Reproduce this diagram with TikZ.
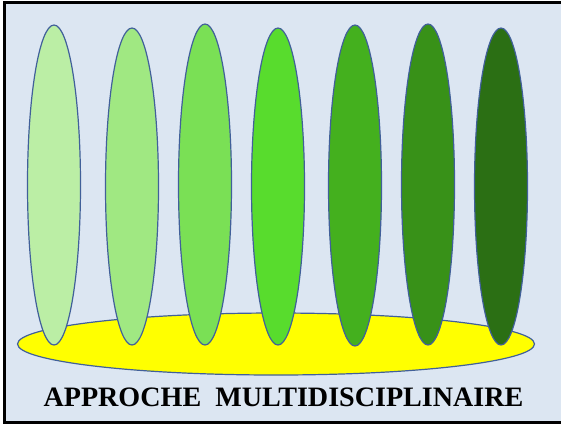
\documentclass[tikz,border=0pt]{standalone}
\usepackage{fontspec}
\setmainfont{Liberation Serif}
\usepackage{tikz}
\usetikzlibrary{shapes.geometric, positioning}
\definecolor{FondBleu}{RGB}{220,230,242}
\definecolor{TraitBleu}{RGB}{65,96,154}
\definecolor{Jaune}{RGB}{255,255,0}
\definecolor{Vert1}{RGB}{187,238,165}
\definecolor{Vert2}{RGB}{160,232,130}
\definecolor{Vert3}{RGB}{122,224,85}
\definecolor{Vert4}{RGB}{88,220,45}
\definecolor{Vert5}{RGB}{68,176,30}
\definecolor{Vert6}{RGB}{56,145,24}
\definecolor{Vert7}{RGB}{43,111,20}

\begin{document}
\begin{tikzpicture}[x=1pt, y=-1pt,
	leaf/.style={ellipse, draw=TraitBleu, line width=1.2pt, minimum width=53pt, inner sep=0pt},
	socle/.style={ellipse, draw=TraitBleu, line width=1.2pt, fill=Jaune, inner sep=0pt}]
	\useasboundingbox (0,0) rectangle (561,424);
	% fond et cadre
	\fill[FondBleu] (4.5,2) rectangle (566,422.5);
	\draw[line width=3pt] (566,2) -- (4.5,2) -- (4.5,422.5) -- (566,422.5);
	% socle jaune
	\node[socle, minimum width=517pt, minimum height=62pt] (base) at (276,344) {};
	% ellipses vertes
	\foreach \i/\x/\y/\h in {1/54/185/320, 2/132/186.5/317, 3/205/184.5/321, 4/278/186.5/317,
		5/355/185.5/321, 6/428/184.5/321, 7/501/186.5/317}{
		\node[leaf, fill=Vert\i, minimum height=\h pt] (d\i) at (\x,\y) {};
	}
	\node[font=\bfseries\fontsize{28.1}{32}\selectfont, anchor=base] (titre) at (283.5,406)
		{APPROCHE\ \ MULTIDISCIPLINAIRE};
\end{tikzpicture}
\end{document}
